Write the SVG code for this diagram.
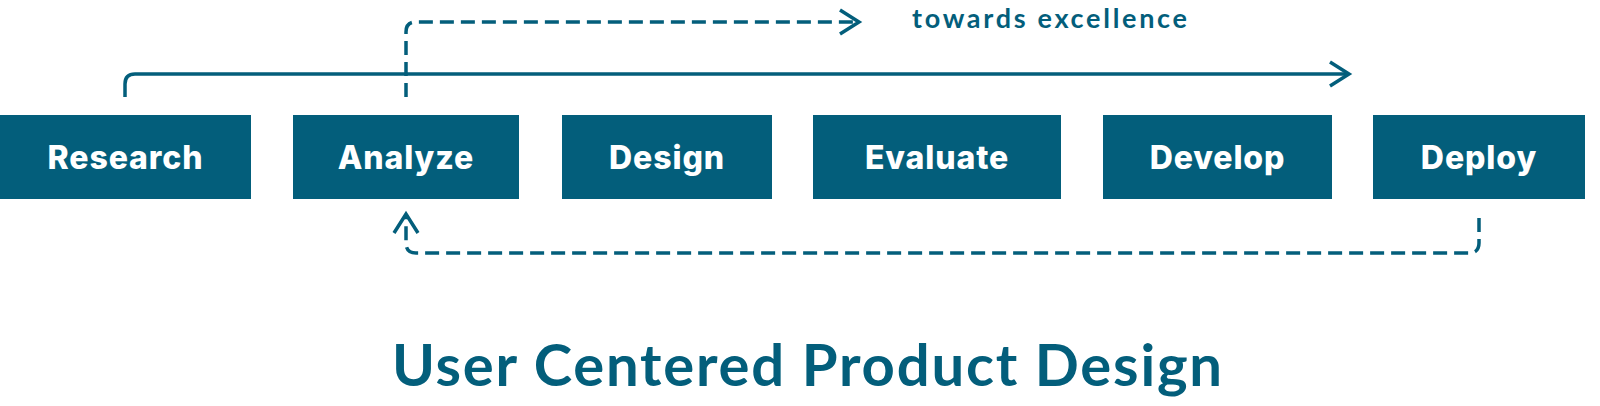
<svg xmlns="http://www.w3.org/2000/svg" width="1600" height="406" viewBox="0 0 1600 406">
  <style>
    .box { fill: #035e7b; }
    .lbl { font-family: Inter, "Liberation Sans", sans-serif; font-weight: 800; font-size: 32px; fill: #ffffff; text-anchor: middle; letter-spacing: 0.9px; }
    .conn { fill: none; stroke: #035e7b; stroke-width: 3.5; }
    .dash { stroke-dasharray: 14 7; }
    .cap { font-family: Lato, "Liberation Sans", sans-serif; fill: #035e7b; }
  </style>
  <defs>
    <marker id="arrow" markerUnits="userSpaceOnUse" orient="auto" markerWidth="30" markerHeight="30" refX="0" refY="0" viewBox="-22 -15 25 30" overflow="visible">
      <path d="M-19,-12 L0,0 L-19,12" fill="none" stroke="#035e7b" stroke-width="3.5" stroke-dasharray="none"/>
    </marker>
  </defs>

  <g id="connectors">
    <path id="research-to-deploy" class="conn" d="M125,97 V84 Q125,74 135,74 H1349" marker-end="url(#arrow)"/>
    <path id="analyze-towards-excellence" class="conn dash" d="M406,97 V32 Q406,22 416,22 H859" marker-end="url(#arrow)"/>
    <path id="deploy-back-to-analyze" class="conn dash" d="M1479,218 V243 Q1479,253 1469,253 H416 Q406,253 406,243 V214" marker-end="url(#arrow)"/>
  </g>

  <g id="node-research">
    <rect class="box" x="0" y="115" width="251" height="84"/>
    <text class="lbl" x="125.5" y="169">Research</text>
  </g>
  <g id="node-analyze">
    <rect class="box" x="293" y="115" width="226" height="84"/>
    <text class="lbl" x="406" y="169">Analyze</text>
  </g>
  <g id="node-design">
    <rect class="box" x="562" y="115" width="210" height="84"/>
    <text class="lbl" x="667" y="169">Design</text>
  </g>
  <g id="node-evaluate">
    <rect class="box" x="813" y="115" width="248" height="84"/>
    <text class="lbl" x="937" y="169">Evaluate</text>
  </g>
  <g id="node-develop">
    <rect class="box" x="1103" y="115" width="229" height="84"/>
    <text class="lbl" x="1217.5" y="169">Develop</text>
  </g>
  <g id="node-deploy">
    <rect class="box" x="1373" y="115" width="212" height="84"/>
    <text class="lbl" x="1479" y="169">Deploy</text>
  </g>

  <text id="towards-label" class="cap" x="912" y="28" font-size="27" font-weight="700" textLength="275" lengthAdjust="spacing">towards excellence</text>
  <text id="title" class="cap" x="392" y="386" font-size="58" font-weight="700" textLength="830" lengthAdjust="spacing">User Centered Product Design</text>
</svg>
